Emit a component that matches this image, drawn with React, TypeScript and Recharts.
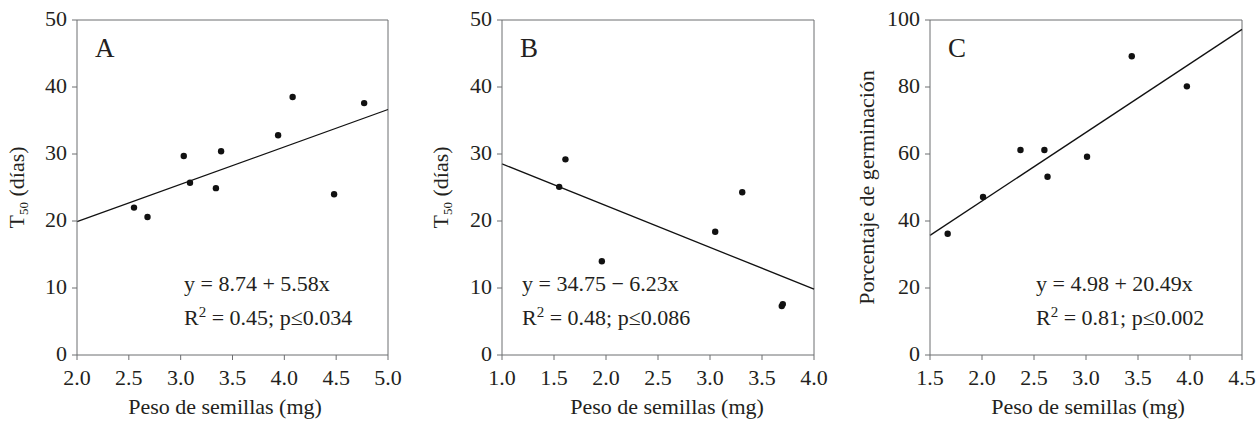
import React from "react";
import {
  ScatterChart,
  Scatter,
  XAxis,
  YAxis,
  ReferenceLine,
} from "recharts";

// Panel A: T50 vs peso de semillas
const pesoA = [2.55, 2.68, 3.03, 3.09, 3.34, 3.39, 3.94, 4.08, 4.48, 4.77];
const t50A = [22.0, 20.6, 29.7, 25.7, 24.9, 30.4, 32.8, 38.5, 24.0, 37.6];
const fitA = [
  { x: 2.0, y: 19.9 },
  { x: 5.0, y: 36.64 },
];

// Panel B
const pesoB = [1.55, 1.61, 1.96, 3.05, 3.31, 3.69, 3.70];
const t50B = [25.1, 29.2, 14.0, 18.4, 24.3, 7.3, 7.6];
const fitB = [
  { x: 1.0, y: 28.52 },
  { x: 4.0, y: 9.83 },
];

// Panel C: porcentaje de germinación
const pesoC = [1.67, 2.01, 2.37, 2.60, 2.63, 3.01, 3.44, 3.97];
const germC = [36.2, 47.2, 61.2, 61.2, 53.2, 59.2, 89.2, 80.2];
const fitC = [
  { x: 1.5, y: 35.7 },
  { x: 4.5, y: 97.2 },
];

const xTicksA = [2.0, 2.5, 3.0, 3.5, 4.0, 4.5, 5.0];
const xTicksB = [1.0, 1.5, 2.0, 2.5, 3.0, 3.5, 4.0];
const xTicksC = [1.5, 2.0, 2.5, 3.0, 3.5, 4.0, 4.5];
const yTicksT50 = [0, 10, 20, 30, 40, 50];
const yTicksGerm = [0, 20, 40, 60, 80, 100];

const FONT = "Liberation Serif, DejaVu Serif, serif";
const TEXT = "#231f20";
const AXIS = "#6d6e71";

const toPoints = (xs: number[], ys: number[]) => xs.map((x, i) => ({ x, y: ys[i] }));

const Dot = (props: any) => <circle cx={props.cx} cy={props.cy} r={3.2} fill="#111" />;

const XTick = (props: any) => (
  <text x={props.x} y={props.y + 25} textAnchor="middle" fontFamily={FONT} fontSize={22} fill={TEXT}>
    {Number(props.payload.value).toFixed(1)}
  </text>
);

const YTick = (props: any) => (
  <text x={props.x - 5} y={props.y + 6} textAnchor="end" fontFamily={FONT} fontSize={22} fill={TEXT}>
    {props.payload.value}
  </text>
);

type PanelProps = {
  left: number;
  letter: string;
  points: { x: number; y: number }[];
  fit: { x: number; y: number }[];
  xTicks: number[];
  yTicks: number[];
  margin: { top: number; right: number; bottom: number; left: number };
  yLabelX: number;
  xLabelX: number;
  subscriptLabel: boolean;
  yLabel: string;
  eq: string;
  stats: [string, string];
  eqX: number;
};

function Panel(p: PanelProps) {
  const xMin = p.xTicks[0];
  const xMax = p.xTicks[p.xTicks.length - 1];
  const yMax = p.yTicks[p.yTicks.length - 1];
  const midY = 187.5;

  return (
    <div style={{ position: "absolute", left: p.left, top: 0, width: 420, height: 426 }}>
      <ScatterChart width={420} height={426} margin={p.margin}>
        <XAxis
          type="number"
          dataKey="x"
          domain={[xMin, xMax]}
          ticks={p.xTicks}
          allowDataOverflow
          stroke={AXIS}
          tickSize={5}
          tickMargin={0}
          tick={<XTick />}
          height={50}
          interval={0}
          label={{
            content: () => (
              <text x={p.xLabelX} y={414} textAnchor="middle" fontFamily={FONT} fontSize={22} fill={TEXT}>
                Peso de semillas (mg)
              </text>
            ),
          }}
        />
        <YAxis
          type="number"
          dataKey="y"
          domain={[0, yMax]}
          ticks={p.yTicks}
          allowDataOverflow
          stroke={AXIS}
          tickSize={5}
          tickMargin={0}
          tick={<YTick />}
          width={60}
          interval={0}
          label={{
            content: () => (
              <text
                transform={`translate(${p.yLabelX}, ${midY}) rotate(-90)`}
                textAnchor="middle"
                fontFamily={FONT}
                fontSize={22}
                fill={TEXT}
              >
                {p.subscriptLabel ? (
                  <>
                    <tspan>T</tspan>
                    <tspan fontSize={13} dy={4}>50</tspan>
                    <tspan dy={-4}> (días)</tspan>
                  </>
                ) : (
                  p.yLabel
                )}
              </text>
            ),
          }}
        />
        <ReferenceLine y={yMax} stroke={AXIS} strokeWidth={1} />
        <ReferenceLine x={xMax} stroke={AXIS} strokeWidth={1} />
        <ReferenceLine segment={p.fit} stroke="#111" strokeWidth={1.3} />
        <Scatter data={p.points} fill="#111" isAnimationActive={false} shape={Dot} />
      </ScatterChart>
      <div
        style={{
          position: "absolute",
          left: p.margin.left + 60 + 18,
          top: 33,
          fontFamily: FONT,
          fontSize: 27,
          color: TEXT,
          lineHeight: "30px",
        }}
      >
        {p.letter}
      </div>
      <div
        style={{
          position: "absolute",
          left: p.eqX,
          top: 267,
          fontFamily: FONT,
          fontSize: 22,
          color: TEXT,
          lineHeight: "34px",
          whiteSpace: "nowrap",
        }}
      >
        <div>{p.eq}</div>
        <div>
          R<sup style={{ fontSize: 15, lineHeight: 0 }}>2</sup> {p.stats[0]}; {p.stats[1]}
        </div>
      </div>
    </div>
  );
}

export default function App() {
  return (
    <div style={{ position: "absolute", left: 0, top: 0, width: 1256, height: 426, background: "#fff" }}>
      <Panel
        left={0}
        letter="A"
        points={toPoints(pesoA, t50A)}
        fit={fitA}
        xTicks={xTicksA}
        yTicks={yTicksT50}
        margin={{ top: 20, right: 32, bottom: 21, left: 17 }}
        yLabelX={24}
        xLabelX={225}
        subscriptLabel
        yLabel="T50 (días)"
        eq="y = 8.74 + 5.58x"
        stats={["= 0.45", "p≤0.034"]}
        eqX={184}
      />
      <Panel
        left={420}
        letter="B"
        points={toPoints(pesoB, t50B)}
        fit={fitB}
        xTicks={xTicksB}
        yTicks={yTicksT50}
        margin={{ top: 20, right: 26, bottom: 21, left: 22 }}
        yLabelX={28}
        xLabelX={247}
        subscriptLabel
        yLabel="T50 (días)"
        eq="y = 34.75 − 6.23x"
        stats={["= 0.48", "p≤0.086"]}
        eqX={102}
      />
      <Panel
        left={836}
        letter="C"
        points={toPoints(pesoC, germC)}
        fit={fitC}
        xTicks={xTicksC}
        yTicks={yTicksGerm}
        margin={{ top: 20, right: 14, bottom: 21, left: 34 }}
        yLabelX={38}
        xLabelX={252}
        subscriptLabel={false}
        yLabel="Porcentaje de germinación"
        eq="y = 4.98 + 20.49x"
        stats={["= 0.81", "p≤0.002"]}
        eqX={200}
      />
    </div>
  );
}
